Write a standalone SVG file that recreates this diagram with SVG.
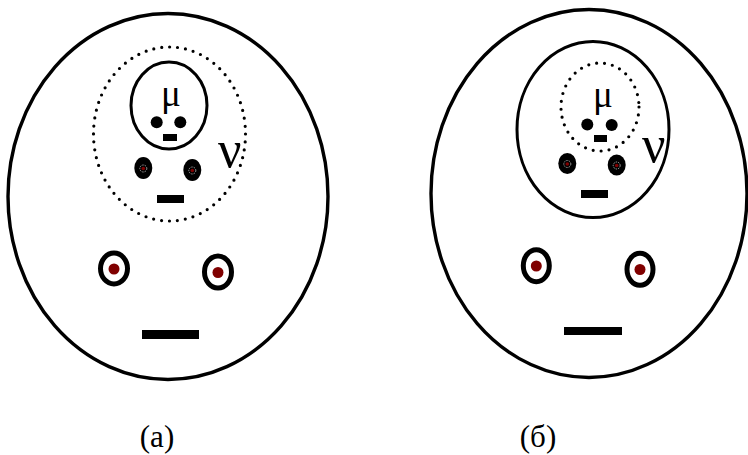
<svg xmlns="http://www.w3.org/2000/svg" width="748" height="455" viewBox="0 0 748 455">
<style>
.solid{fill:none;stroke:#000;stroke-width:3.4}
.inner{fill:none;stroke:#000;stroke-width:3}
.dotted{fill:none;stroke:#000;stroke-width:3.2;stroke-dasharray:0 8;stroke-linecap:round}
.dot{fill:#000}
.bar{fill:#000}
.ring{fill:#fff;stroke:#000;stroke-width:5}
.red{fill:#800000}
.meye{fill:#000}
.mring{fill:none;stroke:#fff;stroke-width:0.6;stroke-dasharray:1.5 1}
.greek{font-family:"Liberation Serif","DejaVu Serif",serif;fill:#000}
.label{font-family:"Liberation Serif","DejaVu Serif",serif;font-size:31px;fill:#000;text-anchor:middle}
</style>
<rect width="748" height="455" fill="#fff"/>
<g id="panel-a">
  <g id="a-outer">
    <ellipse class="solid" cx="168" cy="196.5" rx="160" ry="183"/>
    <ellipse class="ring" cx="114" cy="268.5" rx="13.5" ry="15.5"/>
    <circle class="red" cx="114" cy="269" r="5.5"/>
    <ellipse class="ring" cx="218" cy="272" rx="13.5" ry="16"/>
    <circle class="red" cx="218" cy="272.5" r="5.5"/>
    <rect class="bar" x="142" y="330" width="57" height="9"/>
  </g>
  <g id="a-nu">
    <ellipse class="dotted" cx="169.5" cy="134" rx="76" ry="87"/>
    <ellipse class="meye" cx="143.3" cy="168" rx="9" ry="11"/>
    <circle class="mring" cx="143.3" cy="168.5" r="3.5"/>
    <circle class="red" cx="143.3" cy="168.5" r="1.8"/>
    <ellipse class="meye" cx="192.3" cy="170" rx="9" ry="11"/>
    <circle class="mring" cx="192.3" cy="170.5" r="3.5"/>
    <circle class="red" cx="192.3" cy="170.5" r="1.8"/>
    <rect class="bar" x="157" y="195" width="27" height="8"/>
    <text class="greek" x="218" y="167" font-size="52">ν</text>
  </g>
  <g id="a-mu">
    <ellipse class="inner" cx="169" cy="105.5" rx="38" ry="43.5"/>
    <text class="greek" x="161" y="106" font-size="37">μ</text>
    <circle class="dot" cx="156.7" cy="122.3" r="6"/>
    <circle class="dot" cx="180.3" cy="122.3" r="6"/>
    <rect class="bar" x="163" y="134" width="14" height="7"/>
  </g>
  <text class="label" x="157" y="447">(a)</text>
</g>
<g id="panel-b">
  <g id="b-outer">
    <ellipse class="solid" cx="589" cy="193.5" rx="158" ry="184"/>
    <ellipse class="ring" cx="536.3" cy="265.7" rx="13" ry="16"/>
    <circle class="red" cx="536.3" cy="266" r="5.5"/>
    <ellipse class="ring" cx="640" cy="269.3" rx="13" ry="16"/>
    <circle class="red" cx="640" cy="269.5" r="5.5"/>
    <rect class="bar" x="564" y="327" width="58" height="8"/>
  </g>
  <g id="b-nu">
    <ellipse class="inner" cx="593" cy="129.5" rx="76" ry="88"/>
    <ellipse class="meye" cx="567.3" cy="163.5" rx="9" ry="10.5"/>
    <circle class="mring" cx="567.3" cy="164" r="3.5"/>
    <circle class="red" cx="567.3" cy="164" r="1.8"/>
    <ellipse class="meye" cx="616.7" cy="165" rx="9" ry="10.5"/>
    <circle class="mring" cx="616.7" cy="165.5" r="3.5"/>
    <circle class="red" cx="616.7" cy="165.5" r="1.8"/>
    <rect class="bar" x="581" y="190" width="27" height="8"/>
    <text class="greek" x="642" y="162" font-size="52">ν</text>
  </g>
  <g id="b-mu">
    <ellipse class="dotted" cx="600" cy="107" rx="39" ry="44"/>
    <text class="greek" x="593" y="107" font-size="37">μ</text>
    <circle class="dot" cx="587.3" cy="124.5" r="6"/>
    <circle class="dot" cx="611.7" cy="125" r="6"/>
    <rect class="bar" x="594" y="135" width="13" height="7"/>
  </g>
  <text class="label" x="538" y="447">(б)</text>
</g>
</svg>
